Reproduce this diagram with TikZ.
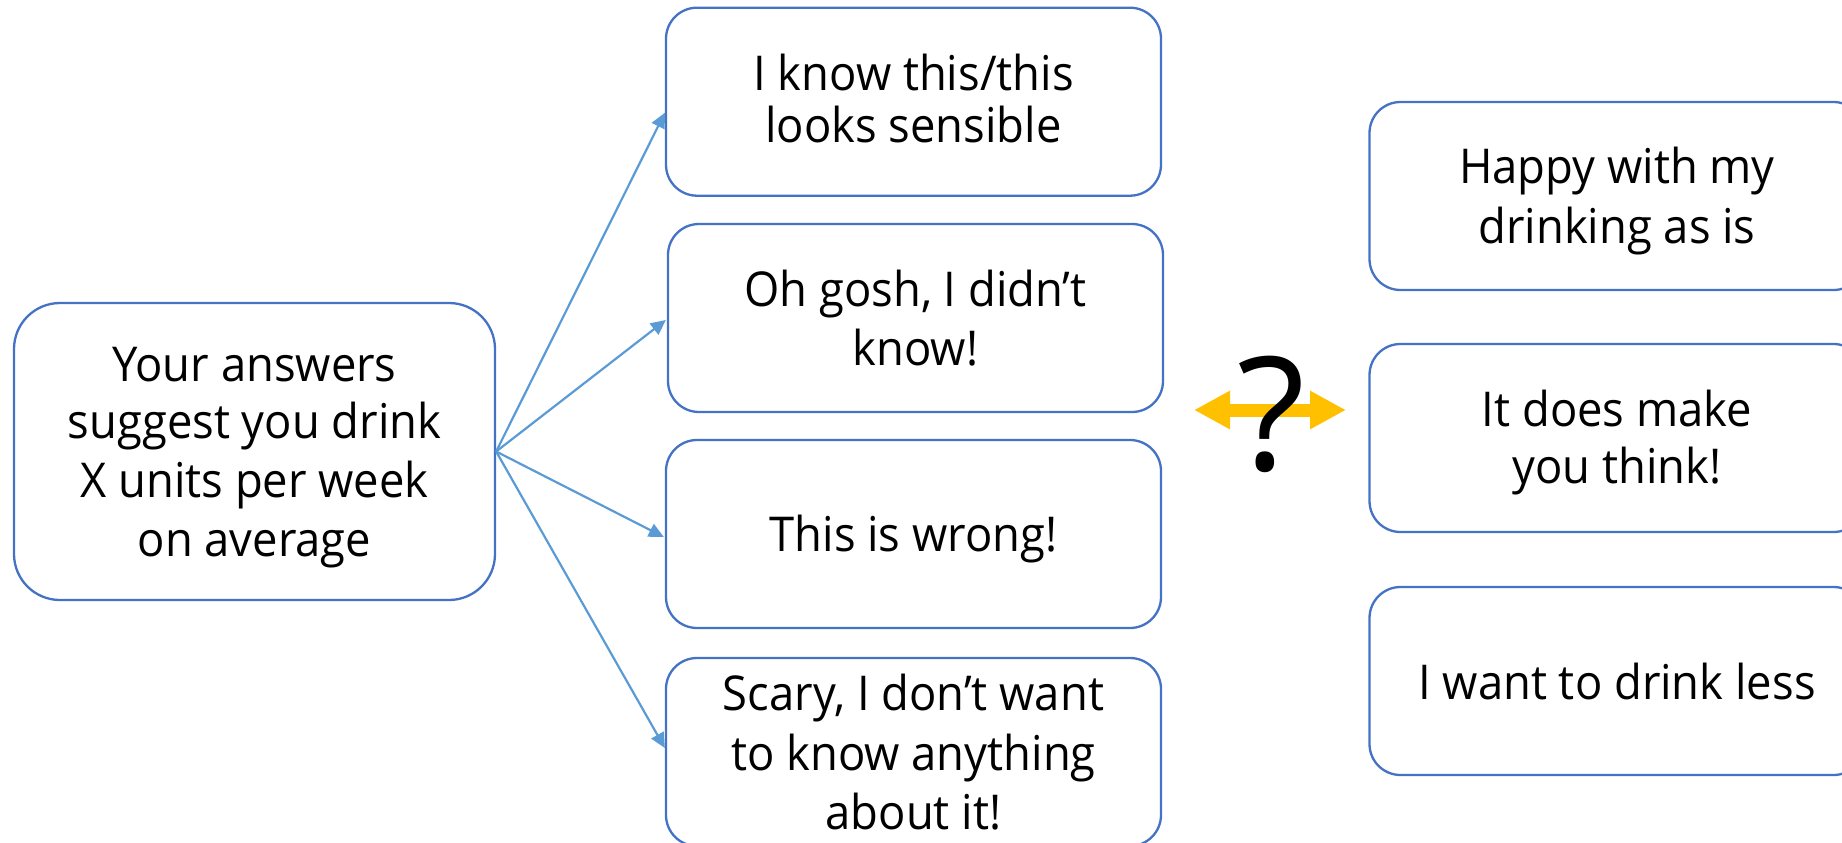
\documentclass[tikz,border=0pt]{standalone}
\usepackage{fontspec}
\setmainfont[FakeStretch=0.945]{Open Sans}
\newfontfamily\qfont{Open Sans}
\usetikzlibrary{arrows.meta,calc}
\definecolor{boxblue}{HTML}{4472C4}
\definecolor{arrblue}{HTML}{5B9BD5}
\definecolor{gold}{HTML}{FFC000}
\newcommand{\stA}{\rule[-10.5pt]{0pt}{57pt}}
\newcommand{\stB}{\rule[-11pt]{0pt}{52pt}}
\begin{document}
\begin{tikzpicture}[x=1pt,y=-1pt,
  card/.style={draw=boxblue, line width=2.3pt, fill=white, rounded corners=31pt,
    minimum width=495pt, minimum height=188pt, align=center, inner sep=0pt,
    font=\fontsize{48}{57}\selectfont},
  bigcard/.style={card, rounded corners=46pt, minimum width=481pt, minimum height=297pt},
  link/.style={draw=arrblue, line width=2.2pt, -{Triangle[length=15pt,width=14pt]}},
  both/.style={draw=gold, line width=13pt, {Triangle[length=36pt,width=36pt]}-{Triangle[length=36pt,width=36pt]}}
]
\useasboundingbox (0,0) rectangle (1842,843);
\clip (0,0) rectangle (1842,843);
\node[bigcard] (lb) at (254.5,451.5) {\stA Your answers\\\stA suggest you drink\\\stA X units per week\\\stA on average};
\node[card, font=\fontsize{48}{52}\selectfont] (b1) at (913.5,101.7) {\stB I know this/this\\\stB looks sensible};
\node[card] (b2) at (915.5,318) {\stA Oh gosh, I didn’t\\\stA know!};
\node[card] (b3) at (913.5,534) {\stA This is wrong!};
\node[card] (b4) at (913.5,752) {\stA Scary, I don’t want\\\stA to know anything\\\stA about it!};
\node[card] (r1) at (1617,196) {\stA Happy with my\\\stA drinking as is};
\node[card] (r2) at (1617,438) {\stA It does make\\\stA you think!};
\node[card] (r3) at (1617,681) {\stA I want to drink less};
\draw[link] (lb.east) -- ($(b1.west)+(0,11)$);
\draw[link] (lb.east) -- ($(b2.west)+(-1,2)$);
\draw[link] (lb.east) -- ($(b3.west)+(-1,3)$);
\draw[link] (lb.east) -- ($(b4.west)+(0,-4)$);
\coordinate (dl) at (1194,410);
\coordinate (dr) at (1346,410);
\draw[both] (dl) -- (dr);
\node[anchor=base, inner sep=0pt, font=\qfont\fontsize{158}{158}\selectfont] (q) at (1271,470) {?};
\end{tikzpicture}
\end{document}
